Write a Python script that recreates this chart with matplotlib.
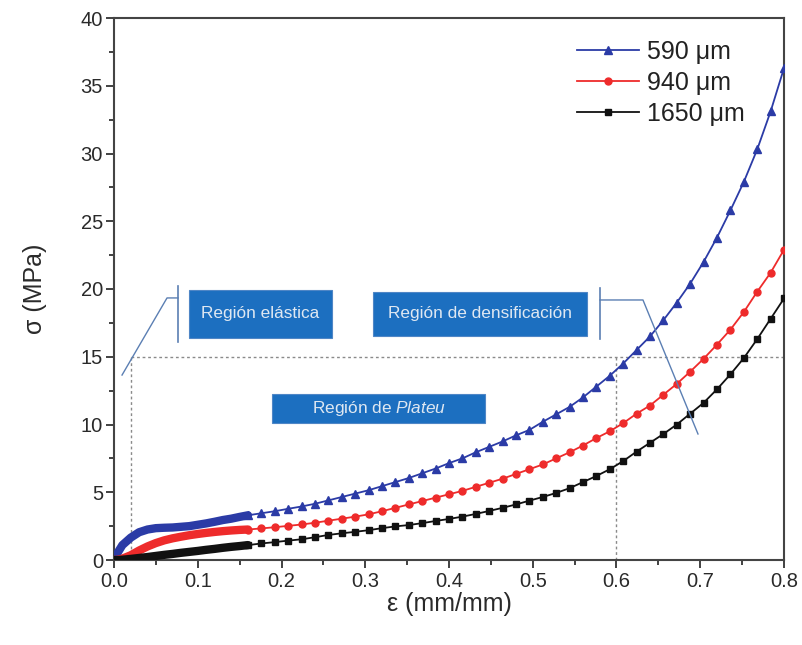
import matplotlib
matplotlib.use("Agg")
import matplotlib.pyplot as plt
from matplotlib.patches import Rectangle
from matplotlib.ticker import MultipleLocator

plt.rcParams['font.family'] = ['Liberation Sans', 'DejaVu Sans']
plt.rcParams['mathtext.fontset'] = 'custom'
plt.rcParams['mathtext.it'] = 'Liberation Sans:italic'
plt.rcParams['mathtext.rm'] = 'Liberation Sans'

# ---- data ----
eps_dense = [0.0, 0.005, 0.01, 0.02, 0.03, 0.04, 0.05, 0.06, 0.07, 0.08,
             0.09, 0.10, 0.11, 0.12, 0.13, 0.14, 0.15, 0.16]
s590_dense = [0.0, 0.6, 1.1, 1.65, 2.05, 2.25, 2.35, 2.38, 2.4, 2.45,
              2.5, 2.6, 2.7, 2.82, 2.95, 3.05, 3.18, 3.3]
s940_dense = [0.0, 0.02, 0.1, 0.35, 0.7, 1.0, 1.25, 1.45, 1.6, 1.72,
              1.83, 1.92, 2.0, 2.07, 2.13, 2.18, 2.22, 2.25]
s1650_dense = [0.0, 0.0, 0.02, 0.08, 0.15, 0.22, 0.3, 0.38, 0.45, 0.53,
               0.6, 0.67, 0.75, 0.82, 0.9, 0.97, 1.03, 1.1]

eps_sparse = [0.160, 0.176, 0.192, 0.208, 0.224, 0.240, 0.256, 0.272, 0.288, 0.304,
              0.320, 0.336, 0.352, 0.368, 0.384, 0.400, 0.416, 0.432, 0.448, 0.464,
              0.480, 0.496, 0.512, 0.528, 0.544, 0.560, 0.576, 0.592, 0.608, 0.624,
              0.640, 0.656, 0.672, 0.688, 0.704, 0.720, 0.736, 0.752, 0.768, 0.784,
              0.800]
s590 = [3.3, 3.45, 3.6, 3.78, 3.95, 4.15, 4.4, 4.65, 4.9, 5.15,
        5.45, 5.75, 6.05, 6.4, 6.75, 7.15, 7.5, 7.95, 8.35, 8.75,
        9.2, 9.6, 10.2, 10.75, 11.3, 12.0, 12.8, 13.6, 14.5, 15.5,
        16.5, 17.7, 19.0, 20.4, 22.0, 23.8, 25.8, 27.9, 30.3, 33.1,
        36.3]
s940 = [2.25, 2.33, 2.42, 2.52, 2.62, 2.75, 2.9, 3.05, 3.2, 3.37,
        3.6, 3.85, 4.1, 4.35, 4.6, 4.85, 5.1, 5.4, 5.7, 6.0,
        6.35, 6.7, 7.05, 7.5, 7.95, 8.45, 9.0, 9.5, 10.1, 10.8,
        11.4, 12.2, 13.0, 13.9, 14.85, 15.9, 17.0, 18.3, 19.8, 21.2,
        22.9]
s1650 = [1.1, 1.22, 1.32, 1.43, 1.53, 1.68, 1.85, 1.97, 2.08, 2.2,
         2.35, 2.48, 2.58, 2.72, 2.88, 3.03, 3.2, 3.4, 3.62, 3.85,
         4.1, 4.38, 4.65, 4.95, 5.3, 5.75, 6.2, 6.7, 7.3, 8.0,
         8.65, 9.3, 10.0, 10.8, 11.6, 12.6, 13.7, 14.9, 16.3, 17.8,
         19.3]

labels = ["590 \u03bcm", "940 \u03bcm", "1650 \u03bcm"]
colors = ["#2b3ba6", "#ee2b2b", "#111111"]
markers = ["^", "o", "s"]

fig = plt.figure(figsize=(8.03, 6.45), dpi=100)
ax = fig.add_axes([114/803, 85/645, 670/803, 542/645])

# reference dashed lines
gcol = "#8a8a8a"
ax.plot([0.02, 0.8], [15, 15], color=gcol, lw=1, ls=(0, (2, 2)), zorder=1)
ax.plot([0.02, 0.02], [0, 15], color=gcol, lw=1, ls=(0, (2, 2)), zorder=1)
ax.plot([0.6, 0.6], [0, 15], color=gcol, lw=1, ls=(0, (2, 2)), zorder=1)

dense = [s590_dense, s940_dense, s1650_dense]
sparse = [s590, s940, s1650]
msz = [5.5, 5, 4.5]
for d, s, c, m, lab, ms in zip(dense, sparse, colors, markers, labels, msz):
    ax.plot(eps_dense, d, color=c, lw=6, solid_capstyle='round', zorder=3)
    ax.plot(eps_sparse, s, color=c, lw=1.3, marker=m, ms=ms, mec=c, mfc=c,
            zorder=3, label=lab)

ax.set_xlim(0, 0.8)
ax.set_ylim(0, 40)
ax.xaxis.set_major_locator(MultipleLocator(0.1))
ax.xaxis.set_minor_locator(MultipleLocator(0.05))
ax.yaxis.set_major_locator(MultipleLocator(5))
ax.yaxis.set_minor_locator(MultipleLocator(2.5))
ax.set_xticks([0, 0.1, 0.2, 0.3, 0.4, 0.5, 0.6, 0.7, 0.8])
ax.set_xticklabels(["0.0", "0.1", "0.2", "0.3", "0.4", "0.5", "0.6", "0.7", "0.8"])
ax.tick_params(which='both', direction='out', top=False, right=False,
               color='#333333', width=1.3, labelcolor='#2a2a2a', labelsize=14.5)
ax.tick_params(axis='x', which='major', length=6, pad=2.5)
ax.tick_params(axis='y', which='major', length=6, pad=2)
ax.tick_params(which='minor', length=3.5)
for sp in ax.spines.values():
    sp.set_color('#444444')
    sp.set_linewidth(1.5)

ax.set_xlabel("\u03b5 (mm/mm)", fontsize=18, color='#2a2a2a', labelpad=1)
ax.set_ylabel("\u03c3 (MPa)", fontsize=18, color='#2a2a2a', labelpad=24)

leg = ax.legend(loc='upper right', bbox_to_anchor=(0.957, 0.978), frameon=False,
                fontsize=18, handlelength=2.5, handletextpad=0.32,
                labelspacing=0.28, borderaxespad=0)
for t in leg.get_texts():
    t.set_color('#222222')

# annotation boxes
bcol = "#1c6fc0"
tcol = "#dfe8f2"
def box(x0, y0, x1, y1, txt, fs):
    ax.add_patch(Rectangle((x0, y0), x1 - x0, y1 - y0, facecolor=bcol,
                           edgecolor='#4f86c6', lw=0.8, zorder=4))
    ax.text((x0 + x1) / 2, (y0 + y1) / 2, txt, ha='center', va='center',
            color=tcol, fontsize=fs, zorder=5)

box(0.0896, 16.38, 0.2603, 19.93, "Región elástica", 12.4)
box(0.3093, 16.53, 0.5648, 19.78, "Región de densificación", 12.4)
box(0.1887, 10.11, 0.4430, 12.25, r"Región de $\mathit{Plateu}$", 12.4)

lcol = "#5b7fb3"
ax.plot([0.0764, 0.0764], [16.09, 20.22], color=lcol, lw=1.2, zorder=4)
ax.plot([0.0764, 0.0633, 0.0096], [19.34, 19.34, 13.65], color=lcol, lw=1.0, zorder=4)
ax.plot([0.5803, 0.5803], [16.31, 20.07], color=lcol, lw=1.2, zorder=4)
ax.plot([0.5803, 0.6316, 0.6973], [19.19, 19.19, 9.3], color=lcol, lw=1.0, zorder=4)

fig.savefig("out.png", dpi=100)
